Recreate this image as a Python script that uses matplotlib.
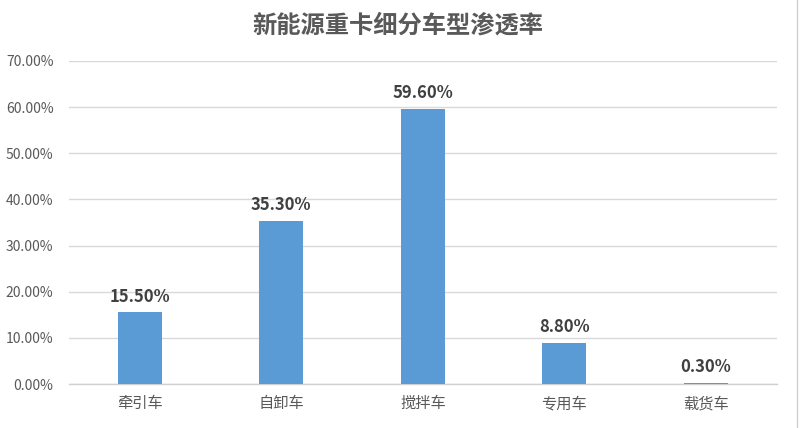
import matplotlib
matplotlib.use("Agg")
import matplotlib.pyplot as plt
from matplotlib.ticker import FuncFormatter
from matplotlib.lines import Line2D

plt.rcParams["font.family"] = ["Noto Sans CJK SC", "DejaVu Sans"]

categories = ["牵引车", "自卸车", "搅拌车", "专用车", "载货车"]
values = [15.5, 35.3, 59.6, 8.8, 0.3]
yticks = [0, 10, 20, 30, 40, 50, 60, 70]

bar_color = "#5B9BD5"
text_color = "#595959"

fig = plt.figure(figsize=(8, 4.28), dpi=100)
ax = fig.add_axes([0.086, 0.1028, 0.885, 0.7547])

x = range(len(categories))
bars = ax.bar(x, values, width=0.31, color=bar_color, zorder=3)

for xi, v in zip(x, values):
    ax.annotate(f"{v:.2f}%", (xi, v), xytext=(0, 5), textcoords="offset points",
                ha="center", va="bottom", fontsize=12, fontweight="bold",
                color="#404040")

ax.set_xlim(-0.5, len(categories) - 0.5)
ax.set_ylim(0, 70)
ax.set_yticks(yticks)
ax.yaxis.set_major_formatter(FuncFormatter(lambda v, p: f"{v:.2f}%"))
ax.set_xticks(list(x))
ax.set_xticklabels(categories, fontsize=11, color=text_color)
ax.tick_params(axis="y", labelsize=10, labelcolor=text_color, length=0, pad=11)
ax.tick_params(axis="x", length=0, pad=8)

ax.grid(axis="y", color="#D9D9D9", linewidth=1, zorder=0)
for side in ["top", "right", "left"]:
    ax.spines[side].set_visible(False)
ax.spines["bottom"].set_color("#D0D0D0")
ax.spines["bottom"].set_linewidth(1)

fig.text(0.4975, 0.94, "新能源重卡细分车型渗透率", ha="center", va="center",
         fontsize=17.5, fontweight="bold", color=text_color)

# right edge border of the sheet
fig.add_artist(Line2D([0.9965, 0.9965], [0, 1], color="#D0D0D0", linewidth=1))

fig.savefig("out.png", dpi=100)
